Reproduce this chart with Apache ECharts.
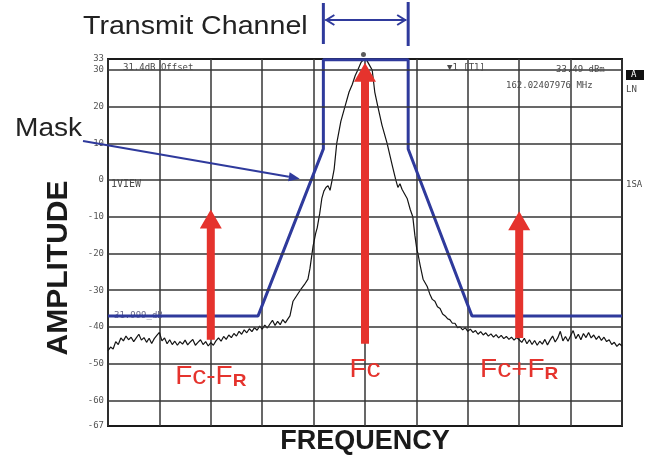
<!DOCTYPE html>
<html><head><meta charset="utf-8">
<script src="https://cdn.jsdelivr.net/npm/echarts@6/dist/echarts.min.js"></script>
<style>html,body{margin:0;padding:0;background:#fff}#c{width:666px;height:461px}</style>
</head><body><div id="c"></div>
<script>
// ---------- data ----------
const yTickValues = [-67, -60, -50, -40, -30, -20, -10, 0, 10, 20, 30, 33];
const gridLevels = [-60, -50, -40, -30, -20, -10, 0, 10, 20, 30];
const maskFreq  = [0, 2.92, 4.19, 4.19, 5.84, 5.84, 7.08, 10];
const maskLevel = [-37, -37, 8.5, 32.8, 32.8, 8.5, -37, -37];
const traceLeft = [
  [0.00,-46.5],[0.05,-45.5],[0.10,-46],[0.15,-44],[0.20,-44.8],[0.25,-43],[0.30,-43.8],[0.35,-42.5],
  [0.40,-43.5],[0.45,-42.8],[0.50,-44],[0.55,-43],[0.60,-42],[0.65,-43.6],[0.70,-42.9],[0.75,-44.2],
  [0.80,-43.1],[0.85,-44.5],[0.90,-43.2],[0.95,-42.3],[1.00,-41.5],[1.05,-43.8],[1.10,-43],[1.15,-44.6],
  [1.20,-43.5],[1.25,-44.8],[1.30,-43.9],[1.35,-45],[1.40,-44],[1.45,-44.7],[1.50,-43.6],[1.55,-44.9],
  [1.60,-44.1],[1.65,-43.4],[1.70,-45],[1.75,-44.2],[1.80,-43.5],[1.85,-44.8],[1.90,-44],[1.95,-45.2],
  [2.00,-44.3],[2.05,-45],[2.10,-43.8],[2.15,-43],[2.20,-43.9],[2.25,-42.6],[2.30,-43.4],[2.35,-42.2],
  [2.40,-42.9],[2.45,-41.8],[2.50,-42.5],[2.55,-41.2],[2.60,-42],[2.65,-40.8],[2.70,-41.6],[2.75,-40.5],
  [2.80,-41.3],[2.85,-40.2],[2.90,-40.9],[2.95,-39.8],[3.00,-40.6],[3.05,-39.5],[3.10,-40.3],[3.15,-39.2],
  [3.20,-38.2],[3.25,-39.6],[3.30,-38.5],[3.35,-39.4],[3.40,-38],[3.45,-38.9],[3.50,-37.8]
];
const traceCenter = [
  [3.54,-37],[3.60,-33],[3.67,-31.5],[3.74,-30],[3.82,-28.5],[3.89,-27],[3.93,-24],[3.99,-18],
  [4.04,-14.5],[4.07,-13],[4.12,-9],[4.16,-5],[4.20,-3],[4.24,-2],[4.28,-1.5],[4.32,-2.8],
  [4.36,0],[4.40,3],[4.45,10],[4.53,16],[4.61,20],[4.69,24],[4.75,26],[4.81,28.5],
  [4.86,30],[4.92,32],[4.98,33],[5.04,32.5],[5.10,31],[5.14,30],[5.19,24],[5.25,20],
  [5.33,15],[5.43,10],[5.53,4],[5.60,0],[5.64,-2],[5.68,-1],[5.72,-2.5],[5.76,-3.5],
  [5.82,-5],[5.88,-8],[5.93,-10],[5.97,-15],[6.01,-19],[6.03,-20],[6.07,-23],[6.13,-27],
  [6.21,-29],[6.26,-31],[6.31,-32.5],[6.36,-33],[6.41,-34.5],[6.46,-35],[6.51,-36.5],[6.56,-37],
  [6.61,-37.8],[6.65,-38],[6.70,-39],[6.75,-39],[6.80,-40.2]
];
const traceRight = [
  [6.85,-40],[6.90,-40.8],[6.95,-40.2],[7.00,-41.2],[7.05,-40.6],[7.10,-41.5],[7.15,-41],[7.20,-42],
  [7.25,-41.3],[7.30,-42.2],[7.35,-41.6],[7.40,-42.5],[7.45,-41.9],[7.50,-42.8],[7.55,-42.1],[7.60,-43],
  [7.65,-42.3],[7.70,-43.2],[7.75,-42.6],[7.80,-43.4],[7.85,-42.8],[7.90,-43.6],[7.95,-42.9],[8.00,-43.5],
  [8.05,-44.2],[8.10,-43.1],[8.15,-44.6],[8.20,-43.5],[8.25,-44.8],[8.30,-43.7],[8.35,-45],[8.40,-43.9],
  [8.45,-44.7],[8.50,-43.4],[8.55,-44.9],[8.60,-43.6],[8.65,-42.5],[8.70,-44.1],[8.75,-43],[8.80,-41.2],
  [8.85,-43.8],[8.90,-42.6],[8.95,-43.9],[9.00,-42.4],[9.05,-41],[9.10,-43.2],[9.15,-42],[9.20,-43.5],
  [9.25,-41.8],[9.30,-42.9],[9.35,-41.5],[9.40,-43],[9.45,-42.2],[9.50,-43.4],[9.55,-42.5],[9.60,-43.7],
  [9.65,-42.8],[9.70,-44],[9.75,-43.5],[9.80,-44.8],[9.85,-44.2],[9.90,-45.3],[9.95,-44.6],[10.00,-45.2]
];
const arrowFreq  = [2, 5, 8];
const arrowBase  = [-43.5, -44.6, -43];
const arrowTip   = [-8, 32, -8.5];
const labelLevel = [-53.5, -51.5, -51.5];
const arrowLabels = ['{m|Fc-F}{s|R}', '{m|Fc}', '{m|Fc+F}{s|R}'];
const peakMarker = [[4.97, 34.2]];
const maskPointer = [3.73, 0.4];

// ---------- chart ----------
const BLUE = '#2f3a9c', RED = '#e5332d', GRID = '#363636';
const chart = echarts.init(document.getElementById('c'), null, {renderer: 'canvas'});
const maskData = maskFreq.map((f, i) => [f, maskLevel[i]]);
const traceData = traceLeft.concat(traceCenter, traceRight);
const arrowData = arrowFreq.map((f, i) => [f, arrowBase[i], arrowTip[i], labelLevel[i]]);

chart.setOption({
  animation: false,
  backgroundColor: '#fff',
  grid: {left: 108, top: 59, width: 514, height: 367, show: true, borderColor: '#1a1a1a', borderWidth: 2, backgroundColor: 'transparent'},
  xAxis: {
    type: 'value', min: 0, max: 10, interval: 1,
    axisLine: {show: false}, axisTick: {show: false}, axisLabel: {show: false},
    splitLine: {show: true, lineStyle: {color: GRID, width: 1.5}},
    name: 'FREQUENCY', nameLocation: 'middle', nameGap: 2,
    nameTextStyle: {fontFamily: 'Liberation Sans', fontWeight: 'bold', fontSize: 27, color: '#1a1a1a', verticalAlign: 'top'}
  },
  yAxis: {
    type: 'value', min: -67, max: 33,
    axisLine: {show: false}, axisTick: {show: false}, splitLine: {show: false},
    axisLabel: {customValues: yTickValues, fontFamily: 'DejaVu Sans Mono', fontSize: 9, color: '#555', margin: 4}
  },
  series: [
    {type: 'line', data: [], silent: true, z: 1,
     markLine: {silent: true, symbol: 'none', label: {show: false}, lineStyle: {color: GRID, width: 1.5, type: 'solid'},
       data: gridLevels.map(v => ({yAxis: v}))}},
    {type: 'line', data: traceData, symbol: 'none', z: 3, lineStyle: {color: '#141414', width: 1.2}},
    {type: 'line', data: maskData, symbol: 'none', z: 4, lineStyle: {color: BLUE, width: 3}},
    {type: 'scatter', data: peakMarker, symbol: 'circle', symbolSize: 5, clip: false, z: 6, itemStyle: {color: '#333'}},
    {type: 'custom', data: arrowData, z: 5, clip: false,
     renderItem: function (params, api) {
       const i = params.dataIndex;
       const x = api.value(0);
       const pb = api.coord([x, api.value(1)]);
       const pt = api.coord([x, api.value(2)]);
       const pl = api.coord([x, api.value(3)]);
       const sw = 4, hw = 11, hl = 19;
       return {type: 'group', children: [
         {type: 'polygon', shape: {points: [
           [pb[0] - sw, pb[1]], [pb[0] - sw, pt[1] + hl], [pb[0] - hw, pt[1] + hl], [pt[0], pt[1]],
           [pb[0] + hw, pt[1] + hl], [pb[0] + sw, pt[1] + hl], [pb[0] + sw, pb[1]]]},
          style: {fill: RED}},
         {type: 'text', x: pl[0], y: pl[1], scaleX: 1.12, style: {
           text: arrowLabels[i], align: 'center', verticalAlign: 'middle',
           rich: {
             m: {fontFamily: 'Liberation Sans', fontSize: 25, fill: RED, verticalAlign: 'bottom', lineHeight: 27},
             s: {fontFamily: 'Liberation Sans', fontSize: 17, fontWeight: 'bold', fill: RED, verticalAlign: 'bottom', lineHeight: 27, padding: [10, 0, 0, 0]}
           }}}
       ]};
     }}
  ]
});

// ---------- annotations ----------
const xL = chart.convertToPixel({gridIndex: 0}, [maskFreq[2], 0])[0];
const xR = chart.convertToPixel({gridIndex: 0}, [maskFreq[4], 0])[0];
const tip = chart.convertToPixel({gridIndex: 0}, maskPointer);
const mStart = [83, 141];
const ang = Math.atan2(tip[1] - mStart[1], tip[0] - mStart[0]);
const ah = 11, aw = 4.5;
const base = [tip[0] - ah * Math.cos(ang), tip[1] - ah * Math.sin(ang)];
const mono = 'DejaVu Sans Mono';
const instr = (x, y, t, opt) => Object.assign({type: 'text', x: x, y: y, z: 10,
  style: {text: t, fontFamily: mono, fontSize: 9, fill: '#4a4a4a', verticalAlign: 'middle'}}, opt || {});

chart.setOption({graphic: [
  {type: 'text', x: 83, y: 27, scaleX: 1.1, style: {text: 'Transmit Channel', fontFamily: 'Liberation Sans', fontSize: 26, fill: '#222', verticalAlign: 'middle'}},
  {type: 'text', x: 59, y: 268, rotation: Math.PI / 2, style: {text: 'AMPLITUDE', fontFamily: 'Liberation Sans', fontWeight: 'bold', fontSize: 30, fill: '#1a1a1a', align: 'center', verticalAlign: 'middle'}},
  {type: 'line', shape: {x1: xL, y1: 3, x2: xL, y2: 44}, style: {stroke: BLUE, lineWidth: 3}},
  {type: 'line', shape: {x1: xR, y1: 2, x2: xR, y2: 46}, style: {stroke: BLUE, lineWidth: 3}},
  {type: 'line', shape: {x1: xL + 2, y1: 20, x2: xR - 2, y2: 20}, style: {stroke: BLUE, lineWidth: 2}},
  {type: 'polyline', shape: {points: [[xL + 11, 15], [xL + 3, 20], [xL + 11, 25]]}, style: {stroke: BLUE, lineWidth: 2, fill: null}},
  {type: 'polyline', shape: {points: [[xR - 11, 15], [xR - 3, 20], [xR - 11, 25]]}, style: {stroke: BLUE, lineWidth: 2, fill: null}},
  {type: 'text', x: 15, y: 129, scaleX: 1.08, style: {text: 'Mask', fontFamily: 'Liberation Sans', fontSize: 26, fill: '#222', verticalAlign: 'middle'}},
  {type: 'line', z: 10, shape: {x1: mStart[0], y1: mStart[1], x2: base[0], y2: base[1]}, style: {stroke: BLUE, lineWidth: 2.2}},
  {type: 'polygon', z: 10, shape: {points: [tip,
    [base[0] + aw * Math.sin(ang), base[1] - aw * Math.cos(ang)],
    [base[0] - aw * Math.sin(ang), base[1] + aw * Math.cos(ang)]]}, style: {fill: BLUE}},
  instr(123, 68, '31.4dB Offset'),
  instr(111, 184, '1VIEW', {style: {text: '1VIEW', fontFamily: mono, fontSize: 10, fill: '#4a4a4a', verticalAlign: 'middle'}}),
  instr(447, 68, '\u25BC1 [T1]'),
  instr(556, 70, '33.49 dBm'),
  instr(506, 86, '162.02407976 MHz'),
  {type: 'rect', shape: {x: 626, y: 70, width: 18, height: 10}, style: {fill: '#111'}},
  instr(631, 75, 'A', {style: {text: 'A', fontFamily: mono, fontSize: 9, fill: '#fff', verticalAlign: 'middle'}}),
  instr(626, 90, 'LN'),
  instr(626, 185, '1SA'),
  instr(114, 316, '31.999_dB', {z: 2, style: {text: '31.999_dB', fontFamily: mono, fontSize: 9, fill: '#6a6a8a', verticalAlign: 'middle'}})
]});
</script></body></html>
